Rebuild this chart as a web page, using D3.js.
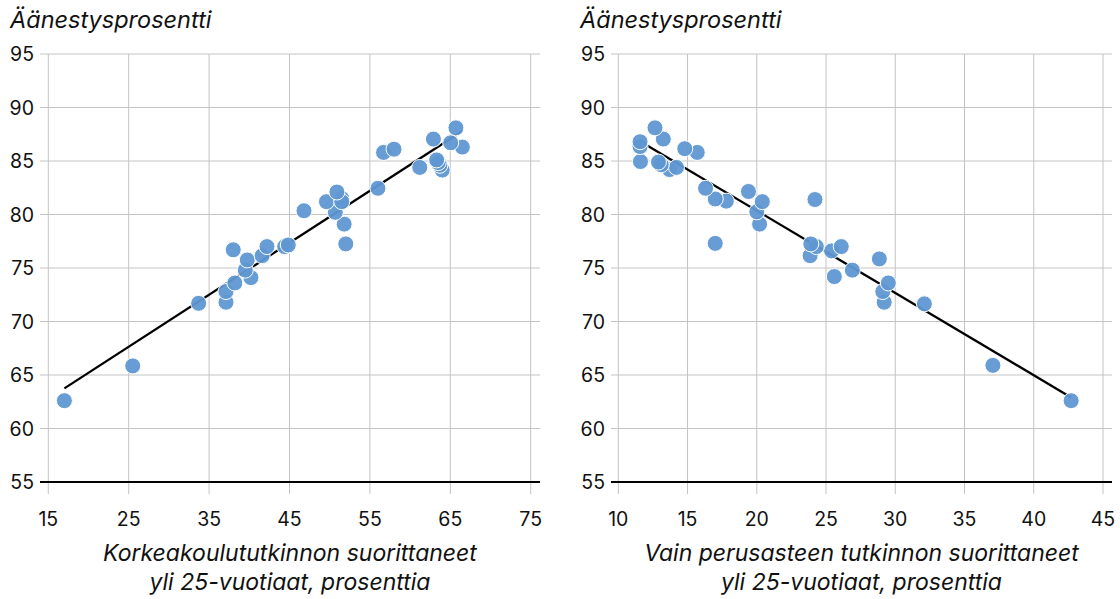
<!DOCTYPE html>
<html>
<head>
<meta charset="utf-8">
<script src="https://cdn.jsdelivr.net/npm/d3@7"></script>
<style>
  html, body { margin: 0; padding: 0; background: #fff; }
  svg { display: block; font-family: Inter, "Liberation Sans", "DejaVu Sans", sans-serif; }
</style>
</head>
<body>
<svg id="chart" width="1120" height="599"></svg>
<script>
// ---- data ----
const yTitle = "Äänestysprosentti";
const yTicks = [55, 60, 65, 70, 75, 80, 85, 90, 95];

const leftXTicks = [15, 25, 35, 45, 55, 65, 75];
const leftXTitle = ["Korkeakoulututkinnon suorittaneet", "yli 25-vuotiaat, prosenttia"];
const leftX = [17.0, 25.5, 33.7, 37.1, 37.1, 38.2, 40.2, 39.5, 39.75, 41.6, 38.0, 42.2, 44.4, 44.85, 52.0, 51.8, 50.7, 46.8, 49.6, 51.5, 51.5, 50.9, 56.0, 64.0, 61.2, 63.7, 63.5, 63.3, 56.7, 58.0, 66.5, 65.05, 62.9, 65.7];
const leftY = [62.6, 65.85, 71.7, 71.8, 72.8, 73.6, 74.1, 74.8, 75.75, 76.15, 76.7, 77.0, 77.0, 77.15, 77.25, 79.1, 80.2, 80.35, 81.2, 81.5, 81.2, 82.1, 82.45, 84.15, 84.4, 84.6, 84.85, 85.1, 85.8, 86.1, 86.3, 86.7, 87.05, 88.1];
const leftTrendX = [17.0, 66.5];
const leftTrendY = [63.75, 87.8];

const rightXTicks = [10, 15, 20, 25, 30, 35, 40, 45];
const rightXTitle = ["Vain perusasteen tutkinnon suorittaneet", "yli 25-vuotiaat, prosenttia"];
const rightX = [42.7, 37.05, 32.1, 29.2, 29.1, 29.5, 25.6, 26.9, 28.85, 23.85, 25.4, 26.1, 24.3, 23.9, 17.0, 20.2, 20.0, 24.2, 17.8, 17.0, 20.4, 19.4, 16.3, 13.7, 14.2, 13.1, 12.9, 11.6, 15.7, 14.8, 11.57, 11.57, 13.25, 12.65];
const rightY = [62.6, 65.9, 71.65, 71.8, 72.8, 73.6, 74.2, 74.8, 75.85, 76.15, 76.6, 77.0, 77.0, 77.25, 77.3, 79.1, 80.25, 81.4, 81.25, 81.45, 81.2, 82.15, 82.45, 84.2, 84.4, 84.65, 84.9, 84.95, 85.8, 86.15, 86.35, 86.8, 87.05, 88.1];
const rightTrendX = [11.57, 42.7];
const rightTrendY = [86.84, 62.9];

// ---- drawing ----
const svg = d3.select("#chart");
const gridColor = "#c4c4c4";
const dotColor = "#5f97d2";

function panel(opt) {
  const g = svg.append("g");
  const x = d3.scaleLinear().domain(opt.xDomain).range(opt.xRange);
  const y = d3.scaleLinear().domain([55, 95]).range([482, 54]);

  // vertical grid
  g.selectAll(".vg").data(opt.xTicks).join("line")
    .attr("x1", d => x(d)).attr("x2", d => x(d))
    .attr("y1", y(95)).attr("y2", y(55) + 12)
    .attr("stroke", gridColor).attr("stroke-width", 1);
  // horizontal grid
  g.selectAll(".hg").data(yTicks.filter(d => d !== 55)).join("line")
    .attr("x1", opt.gridLeft).attr("x2", opt.gridRight)
    .attr("y1", d => y(d)).attr("y2", d => y(d))
    .attr("stroke", gridColor).attr("stroke-width", 1);
  // baseline
  g.append("line")
    .attr("x1", opt.gridLeft).attr("x2", opt.gridRight)
    .attr("y1", y(55)).attr("y2", y(55))
    .attr("stroke", "#000").attr("stroke-width", 2);

  // y labels
  g.selectAll(".yl").data(yTicks).join("text")
    .attr("x", opt.gridLeft - 6).attr("y", d => y(d))
    .attr("dy", "0.36em").attr("text-anchor", "end")
    .attr("font-size", 19.5).attr("fill", "#111")
    .text(d => d);
  // x labels
  g.selectAll(".xl").data(opt.xTicks).join("text")
    .attr("x", d => x(d)).attr("y", 519)
    .attr("dy", "0.36em").attr("text-anchor", "middle")
    .attr("font-size", 19.5).attr("fill", "#111")
    .text(d => d);

  // titles
  g.append("text").attr("x", opt.titleX).attr("y", 28)
    .attr("font-size", 23.5).attr("font-style", "italic").attr("fill", "#111")
    .text(yTitle);
  const cx = (opt.gridLeft + opt.gridRight) / 2;
  g.selectAll(".xt").data(opt.xTitle).join("text")
    .attr("x", cx).attr("y", (d, i) => 561 + i * 29)
    .attr("text-anchor", "middle")
    .attr("font-size", 23).attr("font-style", "italic").attr("fill", "#111")
    .text(d => d);

  // trend line
  const line = d3.line().x(d => x(d[0])).y(d => y(d[1]));
  g.append("path")
    .datum(opt.trendX.map((v, i) => [v, opt.trendY[i]]))
    .attr("d", line).attr("fill", "none")
    .attr("stroke", "#000").attr("stroke-width", 2.3);

  // dots
  g.selectAll(".dot").data(opt.xs.map((v, i) => [v, opt.ys[i]])).join("circle")
    .attr("cx", d => x(d[0])).attr("cy", d => y(d[1])).attr("r", 8)
    .attr("fill", dotColor).attr("fill-opacity", 0.95)
    .attr("stroke", "#fff").attr("stroke-width", 1);
}

panel({
  xDomain: [15, 75], xRange: [48.3, 530.7], xTicks: leftXTicks,
  gridLeft: 40, gridRight: 540, titleX: 10,
  xTitle: leftXTitle, xs: leftX, ys: leftY, trendX: leftTrendX, trendY: leftTrendY
});
panel({
  xDomain: [10, 45], xRange: [618.3, 1103], xTicks: rightXTicks,
  gridLeft: 611, gridRight: 1112, titleX: 580,
  xTitle: rightXTitle, xs: rightX, ys: rightY, trendX: rightTrendX, trendY: rightTrendY
});
</script>
</body>
</html>
